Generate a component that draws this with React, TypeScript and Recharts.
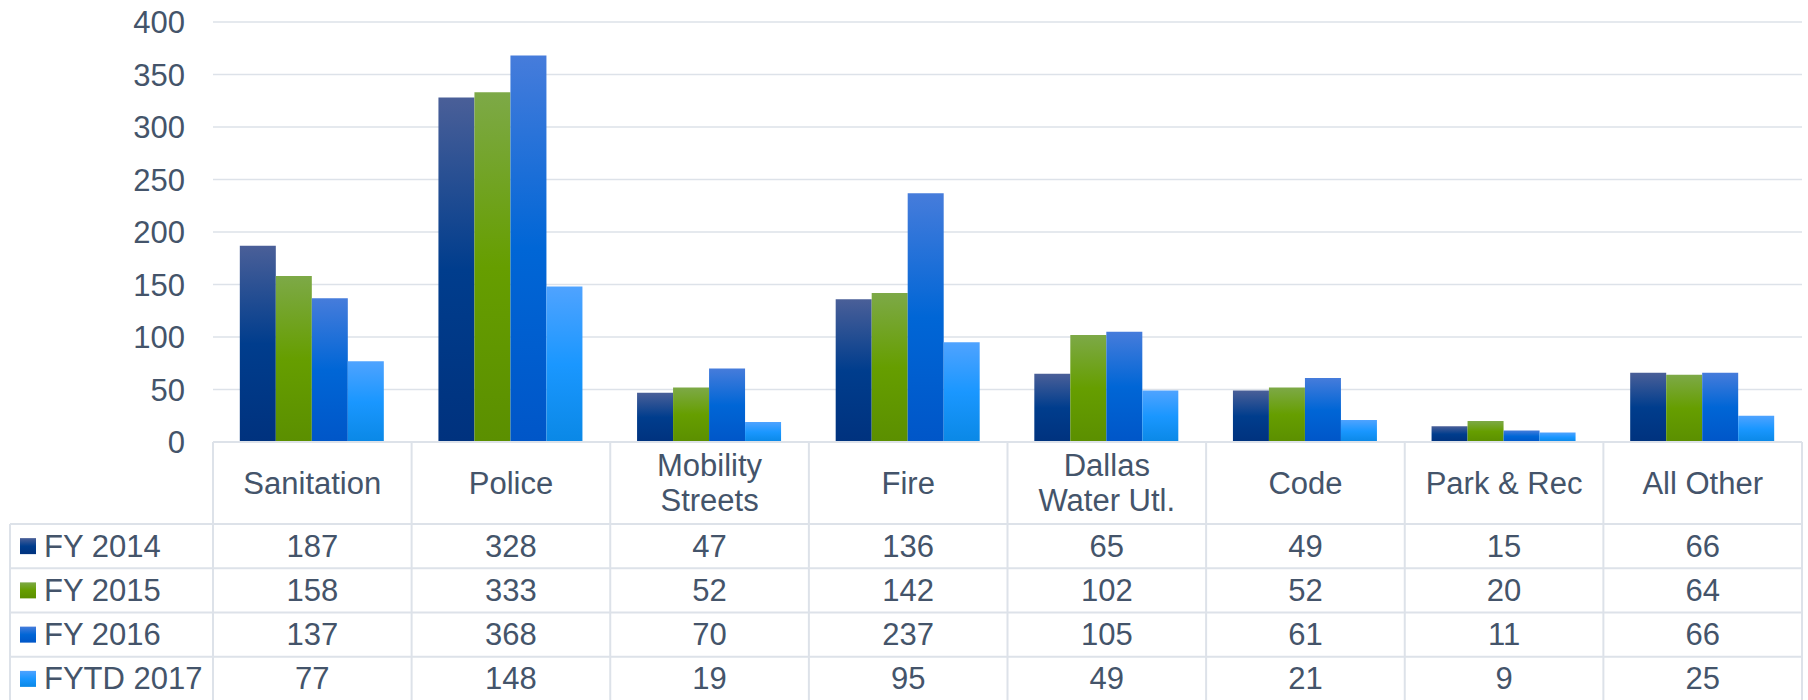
import { Bar, BarChart, CartesianGrid, XAxis, YAxis } from "recharts";

const CATEGORIES = [
  "Sanitation",
  "Police",
  "Mobility Streets",
  "Fire",
  "Dallas Water Utl.",
  "Code",
  "Park & Rec",
  "All Other",
];
const FY2014 = [187, 328, 47, 136, 65, 49, 15, 66];
const FY2015 = [158, 333, 52, 142, 102, 52, 20, 64];
const FY2016 = [137, 368, 70, 237, 105, 61, 11, 66];
const FYTD2017 = [77, 148, 19, 95, 49, 21, 9, 25];
const SERIES_NAMES = ["FY 2014", "FY 2015", "FY 2016", "FYTD 2017"];
const Y_TICKS = [0, 50, 100, 150, 200, 250, 300, 350, 400];

const SERIES = [
  { key: "fy2014", name: SERIES_NAMES[0], values: FY2014, grad: "g2014", stops: ["#4A5F98", "#003D8D", "#00327E"] },
  { key: "fy2015", name: SERIES_NAMES[1], values: FY2015, grad: "g2015", stops: ["#7DA947", "#669E00", "#5B8F00"] },
  { key: "fy2016", name: SERIES_NAMES[2], values: FY2016, grad: "g2016", stops: ["#467CDB", "#0066D6", "#0056C8"] },
  { key: "fytd2017", name: SERIES_NAMES[3], values: FYTD2017, grad: "g2017", stops: ["#4FA3FF", "#1A97FF", "#0A88E6"] },
];

const data = CATEGORIES.map((category, i) => {
  const row: Record<string, string | number> = { category };
  SERIES.forEach((s) => (row[s.key] = s.values[i]));
  return row;
});

const W = 1808;
const H = 700;
const Y_AXIS_W = 213;
const MARGIN = { top: 22, right: 6, bottom: 0, left: 0 };
const X_AXIS_H = 258;
const COL_W = (W - MARGIN.left - MARGIN.right - Y_AXIS_W) / CATEGORIES.length;
const HEADER_H = 82;
const ROW_H = 44.25;
const LEGEND_LEFT = 10;

const TEXT = "#44546A";
const LINE = "#DDE2E9";
const FONT = "'Liberation Sans', Arial, sans-serif";
const FS = 31;

function headerLines(label: string) {
  if (label.length <= 12) return [label];
  const i = label.indexOf(" ");
  return [label.slice(0, i), label.slice(i + 1)];
}

function TableColumn(props: any) {
  const { x, y, payload, index } = props;
  const left = x - COL_W / 2;
  const right = x + COL_W / 2;
  const bottom = H + 2;
  const lines = headerLines(String(payload.value));
  const headerMid = y + HEADER_H / 2;

  return (
    <g fontFamily={FONT} fontSize={FS} fill={TEXT}>
      <line x1={left} y1={y} x2={left} y2={bottom} stroke={LINE} strokeWidth={2} />
      {index === CATEGORIES.length - 1 && (
        <line x1={right} y1={y} x2={right} y2={bottom} stroke={LINE} strokeWidth={2} />
      )}
      {lines.map((t, i) => (
        <text
          key={t}
          x={x}
          y={headerMid + (i - (lines.length - 1) / 2) * 35}
          textAnchor="middle"
          dominantBaseline="central"
        >
          {t}
        </text>
      ))}
      {SERIES.map((s, r) => {
        const top = y + HEADER_H + r * ROW_H;
        return (
          <g key={s.key}>
            <line x1={left} y1={top} x2={right} y2={top} stroke={LINE} strokeWidth={2} />
            <text x={x} y={top + ROW_H / 2} textAnchor="middle" dominantBaseline="central">
              {s.values[index]}
            </text>
          </g>
        );
      })}
      {index === 0 &&
        SERIES.map((s, r) => {
          const top = y + HEADER_H + r * ROW_H;
          return (
            <g key={"lg" + s.key}>
              <line x1={LEGEND_LEFT} y1={top} x2={left} y2={top} stroke={LINE} strokeWidth={2} />
              <rect x={20} y={top + ROW_H / 2 - 8} width={16} height={16} fill={`url(#${s.grad})`} />
              <text x={44} y={top + ROW_H / 2} dominantBaseline="central">
                {s.name}
              </text>
            </g>
          );
        })}
      {index === 0 && (
        <line
          x1={LEGEND_LEFT}
          y1={y + HEADER_H}
          x2={LEGEND_LEFT}
          y2={bottom}
          stroke={LINE}
          strokeWidth={2}
        />
      )}
    </g>
  );
}

export default function App() {
  return (
    <div style={{ position: "absolute", left: 0, top: 0, width: W, height: H, background: "#fff" }}>
      <svg width={0} height={0} style={{ position: "absolute" }}>
        <defs>
          {SERIES.map((s) => (
            <linearGradient key={s.grad} id={s.grad} x1="0" y1="0" x2="0" y2="1">
              <stop offset="0%" stopColor={s.stops[0]} />
              <stop offset="50%" stopColor={s.stops[1]} />
              <stop offset="100%" stopColor={s.stops[2]} />
            </linearGradient>
          ))}
        </defs>
      </svg>
      <BarChart
        width={W}
        height={H}
        data={data}
        margin={MARGIN}
        barCategoryGap="13.5%"
        barGap={0}
      >
        <CartesianGrid vertical={false} stroke={LINE} strokeWidth={1.5} />
        <XAxis
          dataKey="category"
          height={X_AXIS_H}
          interval={0}
          tickSize={0}
          tickMargin={0}
          tickLine={false}
          axisLine={{ stroke: LINE, strokeWidth: 2 }}
          tick={(p: any) => <TableColumn {...p} />}
        />
        <YAxis
          width={Y_AXIS_W}
          domain={[0, 400]}
          ticks={Y_TICKS}
          interval={0}
          axisLine={false}
          tickLine={false}
          tickSize={0}
          tickMargin={28}
          tick={{ fill: TEXT, fontSize: FS, fontFamily: FONT }}
        />
        {SERIES.map((s) => (
          <Bar
            key={s.key}
            dataKey={s.key}
            name={s.name}
            fill={`url(#${s.grad})`}
            isAnimationActive={false}
          />
        ))}
      </BarChart>
    </div>
  );
}
